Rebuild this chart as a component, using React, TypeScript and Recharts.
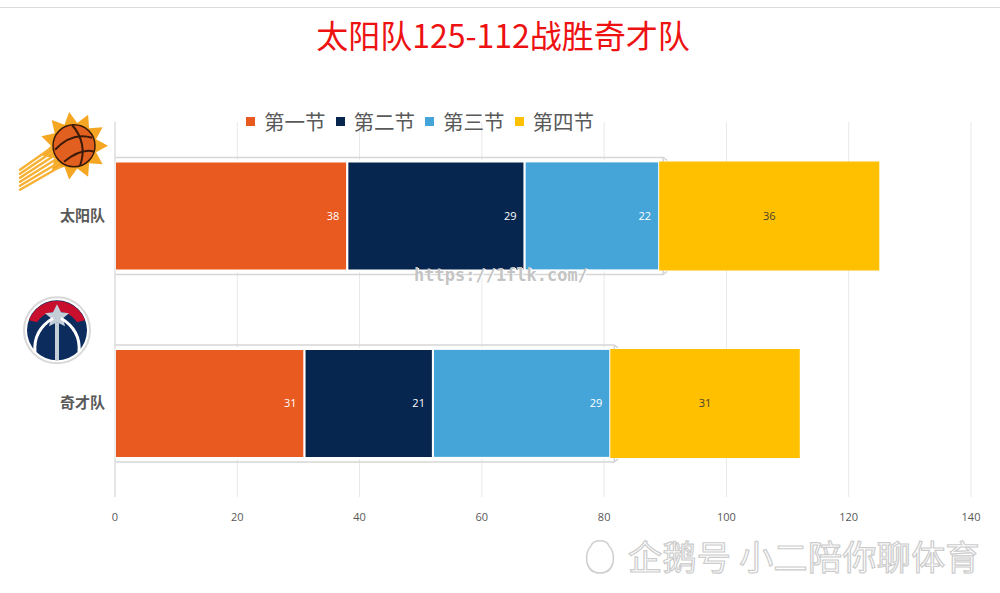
import React from "react";
import { BarChart, Bar, XAxis, YAxis, CartesianGrid, LabelList } from "recharts";

const teams = ["太阳队", "奇才队"];
const q1 = [38, 31];
const q2 = [29, 21];
const q3 = [22, 29];
const q4 = [36, 31];
const quarterNames = ["第一节", "第二节", "第三节", "第四节"];
const quarterColors = ["#e85a1f", "#06254f", "#45a5d8", "#ffc000"];
const xTicks = [0, 20, 40, 60, 80, 100, 120, 140];

const data = teams.map((t, i) => ({ team: t, q1: q1[i], q2: q2[i], q3: q3[i], q4: q4[i] }));

const FONT = "'Open Sans', 'Noto Sans CJK SC', sans-serif";
const CJK = "'Noto Sans CJK SC', sans-serif";

// third segment also draws the light gray "arrow" box around the first three quarters
const OutlinedBar = (props: any) => {
  const { x, y, width, height, payload, fill } = props;
  const left = x - (width * (payload.q1 + payload.q2)) / payload.q3;
  const right = x + width + 4;
  const top = y - 4;
  const bottom = y + height + 4;
  const d = `M${left},${top} L${right},${top} L${right + 4},${top + 3} M${right},${top} L${right},${bottom} L${right + 4},${bottom - 3} M${right},${bottom} L${left},${bottom} Z`;
  return (
    <g>
      <path d={d} fill="none" stroke="#d6d6d6" strokeWidth={1.5} />
      <rect x={x} y={y} width={width} height={height} fill={fill} stroke="#fff" strokeWidth={2} />
    </g>
  );
};

const SunLogo = ({ cx, cy }: { cx: number; cy: number }) => {
  const pts: string[] = [];
  for (let i = 0; i < 22; i++) {
    const a = (i * Math.PI) / 11;
    const r = i % 2 === 0 ? 34 : 23;
    pts.push(`${cx + r * Math.cos(a)},${cy + r * Math.sin(a)}`);
  }
  return (
    <g>
      <polygon points={pts.join(" ")} fill="#f5a623" />
      {[0, 1, 2, 3, 4, 5].map((k) => (
        <path key={k} d={`M${cx - 14},${cy - 4 + k * 5} L${cx - 54},${cy + 24 + k * 4}`} stroke="#f6b136" strokeWidth={2.5} strokeLinecap="round" />
      ))}
      <circle cx={cx} cy={cy} r={21} fill="#e2601f" stroke="#3a1a08" strokeWidth={1.5} />
      <path d={`M${cx - 19},${cy + 4} Q${cx - 2},${cy - 14} ${cx + 18},${cy - 8}`} stroke="#3a1a08" strokeWidth={2} fill="none" />
      <path d={`M${cx - 10},${cy + 16} Q${cx + 8},${cy + 2} ${cx + 20},${cy + 6}`} stroke="#3a1a08" strokeWidth={2} fill="none" />
      <path d={`M${cx - 2},${cy - 21} Q${cx + 14},${cy - 2} ${cx + 6},${cy + 20}`} stroke="#3a1a08" strokeWidth={2} fill="none" />
    </g>
  );
};

const WizardsLogo = ({ cx, cy }: { cx: number; cy: number }) => (
  <g>
    <circle cx={cx} cy={cy} r={33} fill="#ffffff" stroke="#d8d8d8" strokeWidth={2} />
    <circle cx={cx} cy={cy} r={30} fill="#0c2c5e" />
    <path d={`M${cx - 28},${cy - 10} A30,30 0 0 1 ${cx + 28},${cy - 10} L${cx + 20},${cy - 8} A24,24 0 0 0 ${cx - 20},${cy - 8} Z`} fill="#c8102e" />
    <polygon points={`${cx},${cy - 26} ${cx + 4},${cy - 18} ${cx + 12},${cy - 17} ${cx + 6},${cy - 12} ${cx + 8},${cy - 4} ${cx},${cy - 8} ${cx - 8},${cy - 4} ${cx - 6},${cy - 12} ${cx - 12},${cy - 17} ${cx - 4},${cy - 18}`} fill="#c4ced8" />
    <path d={`M${cx},${cy - 8} L${cx},${cy + 30}`} stroke="#c4ced8" strokeWidth={4} />
    <path d={`M${cx - 4},${cy - 12} Q${cx - 24},${cy} ${cx - 22},${cy + 22}`} stroke="#fff" strokeWidth={3} fill="none" />
    <path d={`M${cx + 4},${cy - 12} Q${cx + 24},${cy} ${cx + 22},${cy + 22}`} stroke="#fff" strokeWidth={3} fill="none" />
  </g>
);

const TeamTick = (props: any) => {
  const { x, y, payload } = props;
  const isSuns = payload.value === teams[0];
  return (
    <g>
      {isSuns ? <SunLogo cx={x - 33} cy={y - 70} /> : <WizardsLogo cx={x - 50} cy={y - 73} />}
      <text x={x - 2} y={y} dy={5} textAnchor="end" fontSize={15} fontWeight={700} fill="#595959" fontFamily={CJK}>
        {payload.value}
      </text>
    </g>
  );
};

export default function App() {
  return (
    <div style={{ position: "absolute", left: 0, top: 0, width: 1000, height: 593, background: "#fff", overflow: "hidden" }}>
      <div style={{ position: "absolute", left: 0, top: 7, width: 1000, borderTop: "1px solid #dcdcdc" }} />
      <div style={{ position: "absolute", left: 0, top: 11, width: 1006, textAlign: "center", fontFamily: CJK, fontSize: 32, color: "#ee1111" }}>
        太阳队125-112战胜奇才队
      </div>
      <BarChart
        width={1000}
        height={593}
        data={data}
        layout="vertical"
        margin={{ top: 122, right: 29, bottom: 66, left: 0 }}
        barCategoryGap="21%"
      >
        <CartesianGrid horizontal={false} stroke="#e8e8e8" />
        <XAxis
          type="number"
          domain={[0, 140]}
          ticks={xTicks}
          height={30}
          axisLine={false}
          tickLine={false}
          tickMargin={10}
          tick={{ fontSize: 11, fill: "#595959", fontFamily: FONT }}
        />
        <YAxis
          type="category"
          dataKey="team"
          width={115}
          axisLine={{ stroke: "#d9d9d9" }}
          tickLine={false}
          tick={<TeamTick />}
        />
        <Bar dataKey="q1" stackId="s" fill={quarterColors[0]} stroke="#fff" strokeWidth={2} isAnimationActive={false}>
          <LabelList dataKey="q1" position="insideRight" offset={8} fill="#fff" fontSize={11} fontFamily={FONT} />
        </Bar>
        <Bar dataKey="q2" stackId="s" fill={quarterColors[1]} stroke="#fff" strokeWidth={2} isAnimationActive={false}>
          <LabelList dataKey="q2" position="insideRight" offset={8} fill="#fff" fontSize={11} fontFamily={FONT} />
        </Bar>
        <Bar dataKey="q3" stackId="s" fill={quarterColors[2]} shape={<OutlinedBar />} isAnimationActive={false}>
          <LabelList dataKey="q3" position="insideRight" offset={8} fill="#fff" fontSize={11} fontFamily={FONT} />
        </Bar>
        <Bar dataKey="q4" stackId="s" fill={quarterColors[3]} isAnimationActive={false}>
          <LabelList dataKey="q4" position="center" fill="#4a4030" fontSize={11} fontFamily={FONT} />
        </Bar>
      </BarChart>
      <div style={{ position: "absolute", left: 246, top: 106, display: "flex", alignItems: "center", fontFamily: CJK, fontSize: 20.5, color: "#595959" }}>
        {quarterNames.map((n, i) => (
          <div key={n} style={{ display: "flex", alignItems: "center", marginRight: 10 }}>
            <span style={{ display: "inline-block", width: 9, height: 9, background: quarterColors[i], marginRight: 9 }} />
            <span>{n}</span>
          </div>
        ))}
      </div>
      <div style={{ position: "absolute", left: 414, top: 265, fontFamily: "'DejaVu Sans Mono', monospace", fontWeight: 700, fontSize: 17, color: "#c4c4c4", textShadow: "1px 1px 0 #fff" }}>
        https://1flk.com/
      </div>
      <svg style={{ position: "absolute", left: 0, top: 0 }} width={1000} height={593}>
        <path d="M600,573 C584,573 584,552 591,546 C593,539 607,539 609,546 C616,552 616,573 600,573 Z" fill="#fff" stroke="#cfcfcf" strokeWidth={1.5} />
        <text x={628} y={570} fontFamily={CJK} fontSize={34} letterSpacing={0.4} fill="#fff" stroke="#cccccc" strokeWidth={1.2}>
          企鹅号 小二陪你聊体育
        </text>
      </svg>
    </div>
  );
}
